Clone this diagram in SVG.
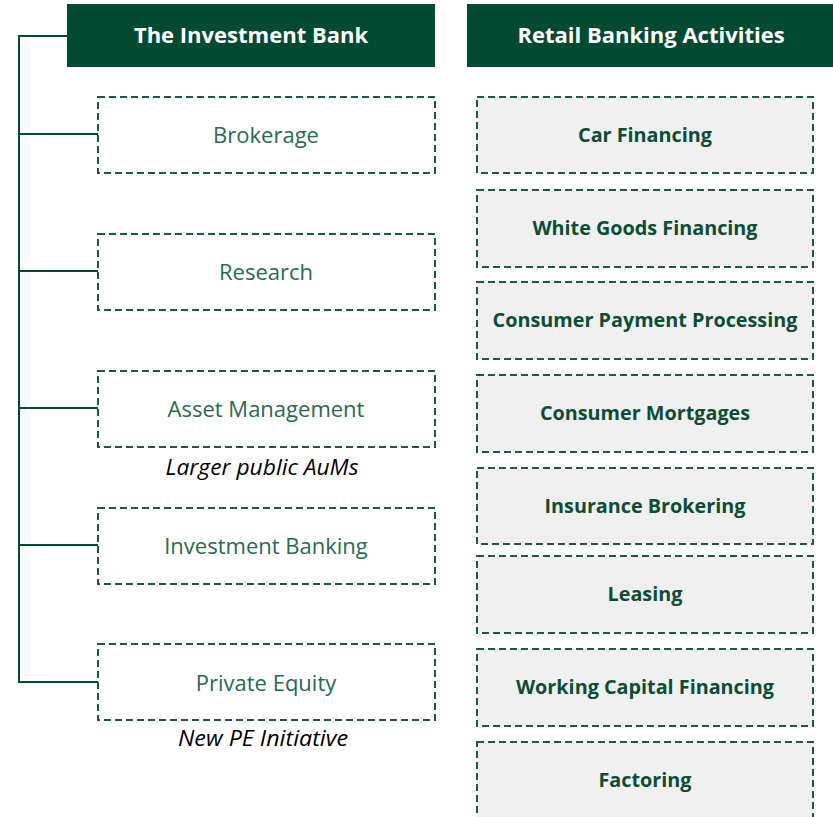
<svg xmlns="http://www.w3.org/2000/svg" width="833" height="817" viewBox="0 0 833 817">
<style>
.hdr{fill:#034a33}
.hdrt{font-family:"Open Sans","Noto Sans",sans-serif;font-weight:bold;font-size:22px;fill:#ffffff;text-anchor:middle}
.lbox{fill:#ffffff;stroke:#1e5a40;stroke-width:2;stroke-dasharray:7 4}
.rbox{fill:#f0f0f0;stroke:#1e5a40;stroke-width:2;stroke-dasharray:7 4}
.lt{font-family:"Open Sans","Noto Sans",sans-serif;font-size:22px;fill:#2a6a50;text-anchor:middle}
.rt{font-family:"Open Sans","Noto Sans",sans-serif;font-weight:bold;font-size:19.8px;fill:#0b4d35;text-anchor:middle}
.note{font-family:"Open Sans","Noto Sans",sans-serif;font-style:italic;font-size:22px;fill:#000000;text-anchor:middle}
.conn{fill:none;stroke:#034a33;stroke-width:2}
</style>
<rect width="833" height="817" fill="#ffffff"/>
<g id="connectors">
<path class="conn" d="M19,36 H67 M19,35 V683 M19,134 H98 M19,271 H98 M19,408 H98 M19,545 H98 M19,682 H98"/>
</g>
<g id="ib-header"><rect class="hdr" x="67" y="4" width="368" height="63"/><text class="hdrt" x="251" y="43">The Investment Bank</text></g>
<g id="rb-header"><rect class="hdr" x="467" y="4" width="366" height="63"/><text class="hdrt" x="651" y="43">Retail Banking Activities</text></g>
<g id="brokerage"><rect class="lbox" x="98" y="97" width="337" height="76"/><text class="lt" x="266" y="143">Brokerage</text></g>
<g id="research"><rect class="lbox" x="98" y="234" width="337" height="76"/><text class="lt" x="266" y="280">Research</text></g>
<g id="asset-management"><rect class="lbox" x="98" y="371" width="337" height="76"/><text class="lt" x="266" y="417">Asset Management</text></g>
<text class="note" x="262" y="475" textLength="193" lengthAdjust="spacingAndGlyphs">Larger public AuMs</text>
<g id="investment-banking"><rect class="lbox" x="98" y="508" width="337" height="76"/><text class="lt" x="266" y="554">Investment Banking</text></g>
<g id="private-equity"><rect class="lbox" x="98" y="644" width="337" height="76"/><text class="lt" x="266" y="691">Private Equity</text></g>
<text class="note" x="263" y="746" textLength="170" lengthAdjust="spacingAndGlyphs">New PE Initiative</text>
<g id="car-financing"><rect class="rbox" x="477" y="97" width="336" height="76"/><text class="rt" x="645" y="142">Car Financing</text></g>
<g id="white-goods"><rect class="rbox" x="477" y="190" width="336" height="77"/><text class="rt" x="645" y="235">White Goods Financing</text></g>
<g id="consumer-payment"><rect class="rbox" x="477" y="282" width="336" height="77"/><text class="rt" x="645" y="327">Consumer Payment Processing</text></g>
<g id="consumer-mortgages"><rect class="rbox" x="477" y="375" width="336" height="77"/><text class="rt" x="645" y="420">Consumer Mortgages</text></g>
<g id="insurance-brokering"><rect class="rbox" x="477" y="468" width="336" height="76"/><text class="rt" x="645" y="513">Insurance Brokering</text></g>
<g id="leasing"><rect class="rbox" x="477" y="556" width="336" height="77"/><text class="rt" x="645" y="601">Leasing</text></g>
<g id="working-capital"><rect class="rbox" x="477" y="649" width="336" height="77"/><text class="rt" x="645" y="694">Working Capital Financing</text></g>
<g id="factoring"><rect class="rbox" x="477" y="742" width="336" height="90"/><text class="rt" x="645" y="787">Factoring</text></g>
</svg>
